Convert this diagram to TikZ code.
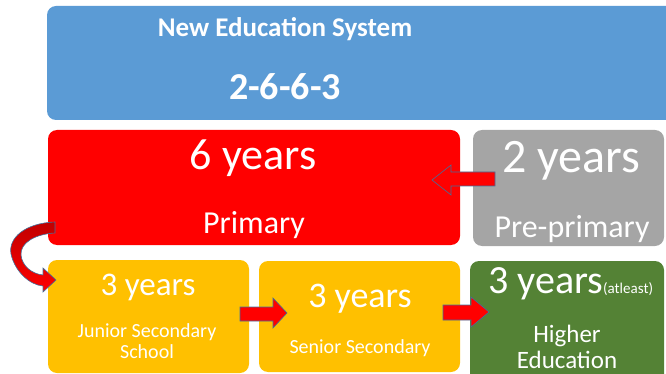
\documentclass[tikz,border=0pt]{standalone}
\usepackage{fontspec}
\setmainfont{Carlito}
\definecolor{cblue}{HTML}{5B9BD5}
\definecolor{cred}{HTML}{FF0000}
\definecolor{cgray}{HTML}{A5A5A5}
\definecolor{cyellow}{HTML}{FFC000}
\definecolor{cgreen}{HTML}{548235}
\definecolor{cdark}{HTML}{C00000}
\definecolor{cline}{HTML}{41719C}
\newcommand{\fs}[1]{\fontsize{#1}{#1}\selectfont}
\tikzset{
  box/.style={rectangle, rounded corners=9pt, draw=none, inner sep=0pt, outer sep=0pt, anchor=north west},
  txt/.style={text=white, anchor=base, inner sep=0pt},
  blockarrow/.style={fill=cred, draw=cline, line width=0.6pt, line join=miter}
}
\begin{document}
\begin{tikzpicture}[x=1pt,y=-1pt]
\useasboundingbox (0,0) rectangle (666,374);
\clip (0,0) rectangle (666,374);
% boxes
\node[box, fill=cblue, minimum width=660pt, minimum height=114pt] (blue) at (47,6) {};
\node[box, fill=cred, minimum width=412pt, minimum height=115pt] (red) at (48,130) {};
\node[box, fill=cgray, minimum width=191pt, minimum height=116pt] (gray) at (473,130) {};
\node[box, fill=cyellow, minimum width=201pt, minimum height=113pt] (ya) at (48,260) {};
\node[box, fill=cyellow, minimum width=201pt, minimum height=111pt] (yb) at (259,261) {};
\node[box, fill=cgreen, minimum width=194pt, minimum height=130pt] (green) at (470,261) {};
% texts
\node[txt, font=\fs{27}\bfseries] (t1) at (285,37) {New Education System};
\node[txt, font=\fs{38}\bfseries] (t2) at (285,100) {2-6-6-3};
\node[txt, font=\fs{44}] (t3) at (253,170) {6 years};
\node[txt, font=\fs{32}] (t4) at (254,233) {Primary};
\node[txt, font=\fs{48}] (t5) at (571,173) {2 years};
\node[txt, font=\fs{32}] (t6) at (572,237) {Pre-primary};
\node[txt, font=\fs{33}] (t7) at (148,295) {3 years};
\node[txt, font=\fs{20}] (t8) at (147,337) {Junior Secondary};
\node[txt, font=\fs{20}] (t9) at (147,358) {School};
\node[txt, font=\fs{36}] (t10) at (360,307) {3 years};
\node[txt, font=\fs{20}] (t11) at (360,353) {Senior Secondary};
\node[txt, anchor=base west] (t12) at (488,293) {\fs{40}3 years\fs{15}(atleast)};
\node[txt, font=\fs{25}] (t13) at (567,342) {Higher};
\node[txt, font=\fs{25}] (t14) at (567,368) {Education};
% block arrows
\draw[blockarrow] (495,172) -- (451,172) -- (451,165) -- (432,180) -- (451,195) -- (451,186) -- (495,186) -- cycle;
\draw[blockarrow] (240,307) -- (273,307) -- (273,298) -- (287,313) -- (273,328) -- (273,321) -- (240,321) -- cycle;
\draw[blockarrow] (443,305) -- (471,305) -- (471,297) -- (489,312) -- (471,327) -- (471,320) -- (443,320) -- cycle;
% curved arrow
\draw[draw=cline, line width=0.6pt, top color=cdark, bottom color=cred, line join=miter]
  (55,222) .. controls (25,223) and (8,238) .. (11,254)
  .. controls (15,272) and (30,285) .. (43,286)
  -- (43,292) -- (56,280) -- (43,268) -- (43,275)
  .. controls (32,274) and (22,266) .. (21,255)
  .. controls (20,243) and (35,234) .. (55,233) -- cycle;
\end{tikzpicture}
\end{document}
